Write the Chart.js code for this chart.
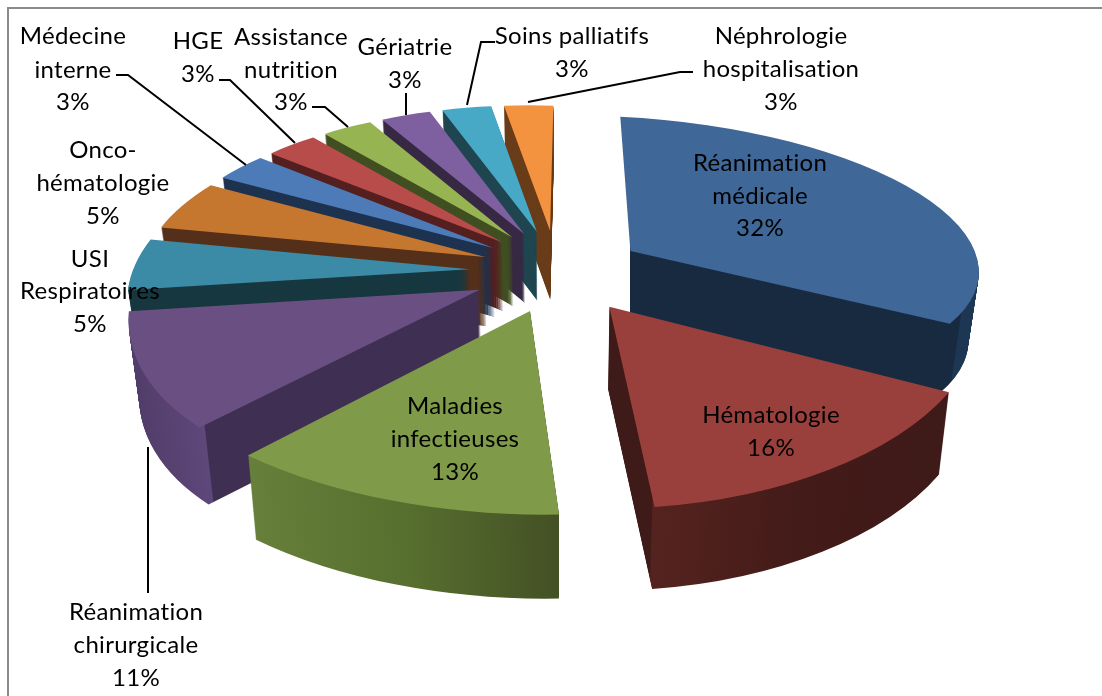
<!DOCTYPE html>
<html lang="fr">
<head>
<meta charset="utf-8">
<title>Répartition par service</title>
<script src="https://cdn.jsdelivr.net/npm/chart.js"></script>
<style>
  html, body { margin: 0; background: #fff; }
  canvas { display: block; }
</style>
</head>
<body>
<canvas id="camembert" width="1102" height="696"></canvas>
<script>
// Données
const services = ['Réanimation médicale', 'Hématologie', 'Maladies infectieuses', 'Réanimation chirurgicale',
  'USI Respiratoires', 'Onco-hématologie', 'Médecine interne', 'HGE', 'Assistance nutrition',
  'Gériatrie', 'Soins palliatifs', 'Néphrologie hospitalisation'];
const valeurs = [32, 16, 13, 11, 5, 5, 3, 3, 3, 3, 3, 3];

const couleurs = ['#3f6797', '#9a403c', '#7f9a48', '#6a5082', '#3b8aa6', '#c5772f',
  '#4c7bb8', '#b84c4a', '#96b552', '#7e60a0', '#47a9c5', '#f4933f'];

// Parois : dégradé horizontal, [x écran, couleur]
const parois = [
  [[630, '#182a40'], [961, '#182a40'], [962, '#1d3654'], [977, '#1d3654']],
  [[608, '#3e1a18'], [652, '#3e1a18'], [653, '#55231f'], [800, '#431b19'], [950, '#3e1a18']],
  [[249, '#667f3a'], [400, '#58702f'], [561, '#435024']],
  [[125, '#503c68'], [204, '#5e477a'], [205, '#3f2f52'], [483, '#3f2f52']],
  [[125, '#183840']],
  [[160, '#55301a']],
  [[230, '#1e3350']],
  [[275, '#552020']],
  [[330, '#414f22']],
  [[385, '#372944']],
  [[445, '#1f4650']],
  [[505, '#6a3d1a']]
];

// Textes : [lignes, x centre, y de chaque ligne]
const etiquettes = [
  [['Réanimation', 'médicale'], 760, [163, 196, 228]],
  [['Hématologie'], 771, [415, 448]],
  [['Maladies', 'infectieuses'], 455, [406, 439, 472]],
  [['Réanimation', 'chirurgicale'], 136, [612, 645, 678]],
  [['USI', 'Respiratoires'], 90, [259, 291, 324]],
  [['Onco-', 'hématologie'], 103, [150, 183, 216]],
  [['Médecine', 'interne'], 73, [36, 70, 102]],
  [['HGE'], 198, [41, 74]],
  [['Assistance', 'nutrition'], 291, [37, 70, 102]],
  [['Gériatrie'], 405, [47, 80]],
  [['Soins palliatifs'], 572, [36, 69]],
  [['Néphrologie', 'hospitalisation'], 781, [36, 69, 102]]
];

// Traits de rappel
const rappels = [
  [[116, 75], [128, 75], [246, 165]],
  [[219, 80], [230, 80], [295, 143]],
  [[312, 107], [325, 107], [348, 127]],
  [[406, 93], [406, 115]],
  [[495, 42], [481, 42], [467, 105]],
  [[693, 72], [680, 72], [528, 102]],
  [[148, 447], [148, 593]]
];

// Vue en perspective du plan du camembert (rayon = 1)
const CX = 556, CY = 270.6, ECLATE = 0.26;
function vue(u, v) {
  let x = CX + 332 * u / (1 + 0.21 * v) + 3 * Math.max(v, 0) - 12 * Math.min(v, 0) ** 2;
  if (u > 0) x += u * (11 + 25 * v) - 12 * u * Math.min(v, 0) ** 2;
  else if (v < 0) x += 10 * u * v;
  let y = CY + 10 * u - 159 * v / (1 + 0.15 * v);
  if (u < 0.1) y += 5 * Math.max(v - 0.5, 0);
  return [x, y];
}
function hauteur(v) {
  return Math.round(71 / (1 + 0.13 * Math.min(v, 0.25)));
}

// Matrice affine qui envoie la part plate de Chart.js sur sa place en perspective
function matricePart(arc) {
  const milieu = (arc.startAngle + arc.endAngle) / 2;
  const span = arc.endAngle - arc.startAngle;
  const ex = ECLATE * Math.cos(milieu), ey = -ECLATE * Math.sin(milieu);
  const t1 = arc.startAngle + span * 0.08, t2 = arc.endAngle - span * 0.08;
  const r = arc.outerRadius;
  const px = r * Math.cos(t1), py = r * Math.sin(t1);
  const qx = r * Math.cos(t2), qy = r * Math.sin(t2);
  // les sommets des parts du fond à gauche se resserrent vers le centre
  const d0 = vue(ex < 0 && ey > 0 ? ex * 0.87 : ex, ey);
  const d1 = vue(ex + Math.cos(t1), ey - Math.sin(t1));
  const d2 = vue(ex + Math.cos(t2), ey - Math.sin(t2));
  const det = px * qy - py * qx;
  const a = ((d1[0] - d0[0]) * qy - (d2[0] - d0[0]) * py) / det;
  const c = ((d2[0] - d0[0]) * px - (d1[0] - d0[0]) * qx) / det;
  const b = ((d1[1] - d0[1]) * qy - (d2[1] - d0[1]) * py) / det;
  const d = ((d2[1] - d0[1]) * px - (d1[1] - d0[1]) * qx) / det;
  return [a, b, c, d, d0[0] - a * arc.x - c * arc.y, d0[1] - b * arc.x - d * arc.y];
}

// Dégradé horizontal à l'écran malgré la matrice active
function fondParoi(ctx, m, stops) {
  if (stops.length === 1) return stops[0][1];
  const x0 = stops[0][0], x1 = stops[stops.length - 1][0];
  const n2 = m[0] * m[0] + m[2] * m[2];
  const sx = m[0] * (x0 - m[4]) / n2, sy = m[2] * (x0 - m[4]) / n2;
  const k = (x1 - x0) / n2;
  const g = ctx.createLinearGradient(sx, sy, sx + m[0] * k, sy + m[2] * k);
  stops.forEach(([x, col]) => g.addColorStop((x - x0) / (x1 - x0), col));
  return g;
}

const pie3d = {
  id: 'pie3d',
  beforeDraw(chart) {
    const ctx = chart.ctx;
    ctx.save();
    ctx.strokeStyle = '#8a8a8a';
    ctx.lineWidth = 2;
    ctx.beginPath();
    ctx.moveTo(1102, 8);
    ctx.lineTo(8, 8);
    ctx.lineTo(8, 696);
    ctx.stroke();
    ctx.restore();
  },
  beforeDatasetsDraw(chart) {
    const ctx = chart.ctx;
    const parts = chart.getDatasetMeta(0).data.map((arc, i) => ({ arc, i }));
    const cosMilieu = p => -Math.sin((p.arc.startAngle + p.arc.endAngle) / 2);
    const sinMilieu = p => Math.cos((p.arc.startAngle + p.arc.endAngle) / 2);
    parts.sort((p, q) => cosMilieu(q) - cosMilieu(p));
    parts.forEach(({ arc, i }) => {
      const m = matricePart(arc);
      const base = arc.options;
      const h = hauteur(cosMilieu({ arc }) * (1 + ECLATE));
      arc.options = Object.assign({}, base, { backgroundColor: fondParoi(ctx, m, parois[i]) });
      ctx.save();
      // part du fond à droite : sa coupe gauche tourne le dos, pas de paroi de ce côté
      if (cosMilieu({ arc }) > 0 && sinMilieu({ arc }) > 0) {
        const sommet = vue(ECLATE * sinMilieu({ arc }), ECLATE * cosMilieu({ arc }));
        ctx.beginPath();
        ctx.rect(sommet[0], 0, 1102, 696);
        ctx.clip();
      }
      for (let k = h; k >= 1; k--) {
        const s = 1 - 0.025 * k / h;
        ctx.save();
        ctx.transform(s, 0, 0, 1, CX * (1 - s), k);
        ctx.transform(...m);
        arc.draw(ctx);
        ctx.restore();
      }
      ctx.restore();
      arc.options = base;
      ctx.save();
      ctx.transform(...m);
      arc.draw(ctx);
      ctx.restore();
    });
    return false;
  },
  afterDraw(chart) {
    const ctx = chart.ctx;
    ctx.save();
    ctx.strokeStyle = '#000';
    ctx.lineWidth = 2;
    rappels.forEach(trait => {
      ctx.beginPath();
      trait.forEach(([x, y], k) => k ? ctx.lineTo(x, y) : ctx.moveTo(x, y));
      ctx.stroke();
    });
    ctx.fillStyle = '#000';
    ctx.font = '24px Lato';
    ctx.letterSpacing = '0.3px';
    ctx.textAlign = 'center';
    ctx.textBaseline = 'middle';
    etiquettes.forEach(([lignes, x, ys], i) => {
      [...lignes, valeurs[i] + '%'].forEach((txt, k) => ctx.fillText(txt, x, ys[k]));
    });
    ctx.restore();
  }
};

new Chart(document.getElementById('camembert'), {
  type: 'pie',
  data: {
    labels: services,
    datasets: [{ data: valeurs, backgroundColor: couleurs, borderWidth: 0 }]
  },
  options: {
    responsive: false,
    animation: false,
    plugins: { legend: { display: false }, tooltip: { enabled: false } }
  },
  plugins: [pie3d]
});
</script>
</body>
</html>
